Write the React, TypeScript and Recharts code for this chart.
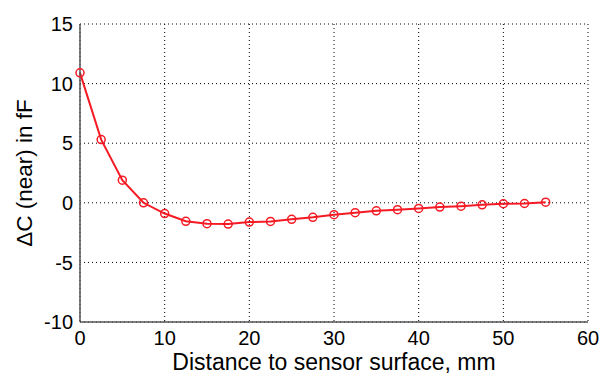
import React from 'react';
import {
  LineChart,
  Line,
  XAxis,
  YAxis,
  CartesianGrid,
} from 'recharts';

// distance to sensor surface, mm
const distances = [
  0, 2.5, 5, 7.5, 10, 12.5, 15, 17.5, 20, 22.5, 25, 27.5, 30, 32.5, 35, 37.5,
  40, 42.5, 45, 47.5, 50, 52.5, 55,
];
// ΔC (near), fF
const deltaC = [
  10.9, 5.3, 1.9, 0.0, -0.9, -1.55, -1.75, -1.78, -1.62, -1.56, -1.39, -1.22,
  -1.0, -0.83, -0.67, -0.58, -0.47, -0.36, -0.28, -0.17, -0.08, -0.06, 0.05,
];
const xTicks = [0, 10, 20, 30, 40, 50, 60];
const yTicks = [-10, -5, 0, 5, 10, 15];

const data = distances.map((d, i) => ({ d, c: deltaC[i] }));

const FONT = '"Liberation Sans", Arial, sans-serif';

const YTitle = ({ viewBox }: any) => {
  const x = 24;
  const y = viewBox.y + viewBox.height / 2;
  return (
    <text x={x} y={y} transform={`rotate(-90 ${x} ${y})`} textAnchor="middle"
      dominantBaseline="central" fontSize={22.5} fontFamily={FONT} fill="#000">
      ΔC (near) in fF
    </text>
  );
};

const XTitle = ({ viewBox }: any) => {
  const x = viewBox.x + viewBox.width / 2;
  return (
    <text x={x} y={362} textAnchor="middle" dominantBaseline="central"
      fontSize={23} fontFamily={FONT} fill="#000">
      Distance to sensor surface, mm
    </text>
  );
};

export default function App() {
  return (
    <div style={{ position: 'absolute', left: 0, top: 0, width: 610, height: 374, background: '#fff' }}>
      <LineChart width={610} height={374} data={data}
        margin={{ top: 24, right: 22, bottom: 22, left: 30 }}>
        <CartesianGrid stroke="#000" strokeDasharray="1 3" strokeWidth={1} />
        <XAxis dataKey="d" type="number" domain={[0, 60]} ticks={xTicks}
          interval={0} tickLine={false} axisLine={{ stroke: '#555', strokeWidth: 1.5 }}
          tick={{ fill: '#000', fontSize: 20, fontFamily: FONT }} tickMargin={3}
          height={30} label={<XTitle />} />
        <YAxis type="number" domain={[-10, 15]} ticks={yTicks} interval={0}
          width={50} tickLine={false} axisLine={{ stroke: '#555', strokeWidth: 1.5 }}
          tick={{ fill: '#000', fontSize: 20, fontFamily: FONT }} tickMargin={1}
          label={<YTitle />} />
        <Line dataKey="c" stroke="#f51a24" strokeWidth={2}
          dot={{ r: 4, stroke: '#f51a24', strokeWidth: 1.5, fill: 'none' }}
          isAnimationActive={false} />
      </LineChart>
    </div>
  );
}
